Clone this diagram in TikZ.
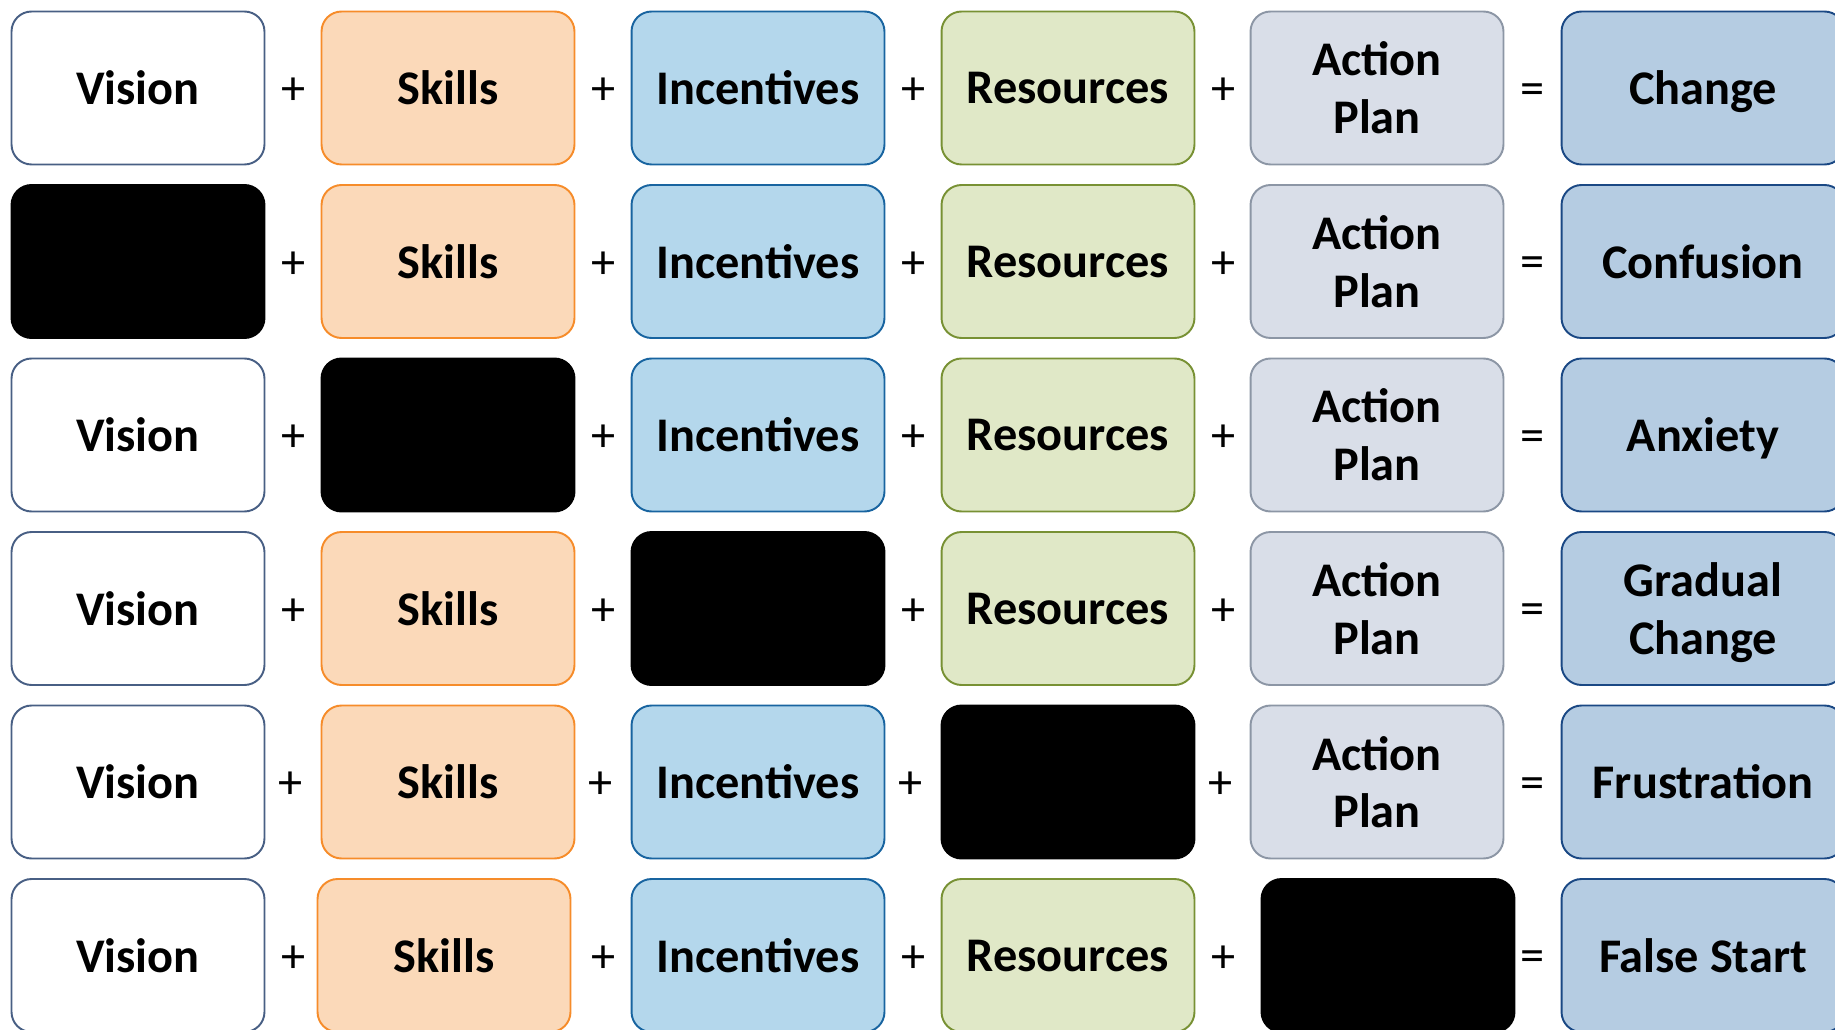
\documentclass[tikz,border=0pt]{standalone}
\usepackage{fontspec}
\setmainfont{Carlito}
\usepackage{tikz}
\usetikzlibrary{positioning}

\definecolor{visionline}{RGB}{72,95,132}
\definecolor{skillsfill}{RGB}{251,217,185}
\definecolor{skillsline}{RGB}{246,140,42}
\definecolor{incentfill}{RGB}{180,215,236}
\definecolor{incentline}{RGB}{24,100,160}
\definecolor{resfill}{RGB}{224,232,199}
\definecolor{resline}{RGB}{120,145,52}
\definecolor{planfill}{RGB}{217,222,232}
\definecolor{planline}{RGB}{140,150,165}
\definecolor{resultfill}{RGB}{181,204,226}
\definecolor{resultline}{RGB}{26,72,132}

\tikzset{
	factor/.style={draw, line width=1.1pt, rounded corners=0.4cm, minimum width=5.06cm, minimum height=3.06cm, align=center, inner sep=0pt, text depth=0pt, font=\bfseries\fontsize{27.5}{33}\selectfont},
	vision/.style={factor, draw=visionline, fill=white},
	skills/.style={factor, draw=skillsline, fill=skillsfill},
	incent/.style={factor, draw=incentline, fill=incentfill},
	resource/.style={factor, draw=resline, fill=resfill},
	plan/.style={factor, draw=planline, fill=planfill},
	missing/.style={factor, draw=black, fill=black},
	result/.style={factor, draw=resultline, fill=resultfill, minimum width=5.66cm},
	op/.style={inner sep=0pt, yshift=-0.07cm, font=\fontsize{27.5}{33}\selectfont},
	eqsign/.style={inner sep=0pt, yshift=-0.12cm, font=\fontsize{27.5}{33}\selectfont}
}

\begin{document}
\begin{tikzpicture}[x=0.02cm, y=-0.02cm]
			%%%%% START %%%%%
			\useasboundingbox (0, 0) rectangle (1835, 1030);
			
			% row 1
			\node[vision] (v1) at (138, 88) {Vision};
			\node[op] (a1) at (294, 88) {+};
			\node[skills] (s1) at (448, 88) {Skills};
			\node[op] (b1) at (604, 88) {+};
			\node[incent] (i1) at (758, 88) {Incentives};
			\node[op] (c1) at (914, 88) {+};
			\node[resource] (r1) at (1068, 88) {Resources};
			\node[op] (d1) at (1224, 88) {+};
			\node[plan] (p1) at (1377, 88) {Action\\Plan};
			\node[eqsign] (e1) at (1533, 88) {=};
			\node[result] (o1) at (1703, 88) {Change};
			
			% row 2
			\node[missing] (v2) at (138, 261.5) {};
			\node[op] (a2) at (294, 261.5) {+};
			\node[skills] (s2) at (448, 261.5) {Skills};
			\node[op] (b2) at (604, 261.5) {+};
			\node[incent] (i2) at (758, 261.5) {Incentives};
			\node[op] (c2) at (914, 261.5) {+};
			\node[resource] (r2) at (1068, 261.5) {Resources};
			\node[op] (d2) at (1224, 261.5) {+};
			\node[plan] (p2) at (1377, 261.5) {Action\\Plan};
			\node[eqsign] (e2) at (1533, 261.5) {=};
			\node[result] (o2) at (1703, 261.5) {Confusion};
			
			% row 3
			\node[vision] (v3) at (138, 435) {Vision};
			\node[op] (a3) at (294, 435) {+};
			\node[missing] (s3) at (448, 435) {};
			\node[op] (b3) at (604, 435) {+};
			\node[incent] (i3) at (758, 435) {Incentives};
			\node[op] (c3) at (914, 435) {+};
			\node[resource] (r3) at (1068, 435) {Resources};
			\node[op] (d3) at (1224, 435) {+};
			\node[plan] (p3) at (1377, 435) {Action\\Plan};
			\node[eqsign] (e3) at (1533, 435) {=};
			\node[result] (o3) at (1703, 435) {Anxiety};
			
			% row 4
			\node[vision] (v4) at (138, 608.5) {Vision};
			\node[op] (a4) at (294, 608.5) {+};
			\node[skills] (s4) at (448, 608.5) {Skills};
			\node[op] (b4) at (604, 608.5) {+};
			\node[missing] (i4) at (758, 608.5) {};
			\node[op] (c4) at (914, 608.5) {+};
			\node[resource] (r4) at (1068, 608.5) {Resources};
			\node[op] (d4) at (1224, 608.5) {+};
			\node[plan] (p4) at (1377, 608.5) {Action\\Plan};
			\node[eqsign] (e4) at (1533, 608.5) {=};
			\node[result] (o4) at (1703, 608.5) {Gradual\\Change};
			
			% row 5
			\node[vision] (v5) at (138, 782) {Vision};
			\node[op] (a5) at (291, 782) {+};
			\node[skills] (s5) at (448, 782) {Skills};
			\node[op] (b5) at (601, 782) {+};
			\node[incent] (i5) at (758, 782) {Incentives};
			\node[op] (c5) at (911, 782) {+};
			\node[missing] (r5) at (1068, 782) {};
			\node[op] (d5) at (1221, 782) {+};
			\node[plan] (p5) at (1377, 782) {Action\\Plan};
			\node[eqsign] (e5) at (1533, 782) {=};
			\node[result] (o5) at (1703, 782) {Frustration};
			
			% row 6
			\node[vision] (v6) at (138, 955.5) {Vision};
			\node[op] (a6) at (294, 955.5) {+};
			\node[skills] (s6) at (444, 955.5) {Skills};
			\node[op] (b6) at (604, 955.5) {+};
			\node[incent] (i6) at (758, 955.5) {Incentives};
			\node[op] (c6) at (914, 955.5) {+};
			\node[resource] (r6) at (1068, 955.5) {Resources};
			\node[op] (d6) at (1224, 955.5) {+};
			\node[missing] (p6) at (1388, 955.5) {};
			\node[eqsign] (e6) at (1533, 955.5) {=};
			\node[result] (o6) at (1703, 955.5) {False Start};
			
			%%%%% END %%%%%
\end{tikzpicture}
\end{document}
